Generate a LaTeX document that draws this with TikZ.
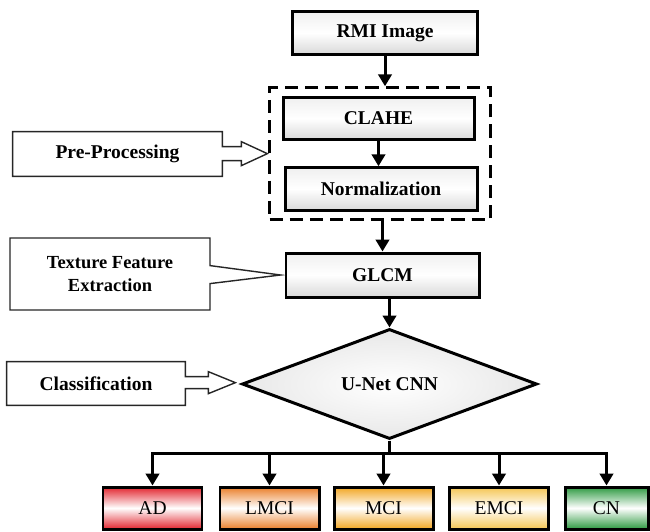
\documentclass[tikz,border=0pt]{standalone}
\usepackage{fontspec}
\setmainfont{Liberation Serif}
\usetikzlibrary{arrows.meta,positioning,shapes.geometric,shapes.callouts,fit,calc}
\definecolor{adred}{HTML}{E2262F}
\definecolor{lmciorange}{HTML}{EA7F2A}
\definecolor{mcigold}{HTML}{F2A622}
\definecolor{emciyellow}{HTML}{F5C552}
\definecolor{cngreen}{HTML}{2E9A42}
\newcommand{\labelsize}{\fontsize{11.1}{13}\selectfont}
\tikzset{
  block/.style={rectangle,draw=black,line width=1.7pt,top color=gray!12,bottom color=gray!30,middle color=white,font=\labelsize\bfseries,minimum height=0.85cm},
  classbox/.style={rectangle,draw=black,line width=1.7pt,top color=#1,bottom color=#1,middle color=white,font=\labelsize,minimum width=1.98cm,minimum height=0.84cm},
  note/.style={rectangle,font=\labelsize\bfseries,align=center},
  outline/.style={draw=black!85,line width=0.8pt},
  frame/.style={draw=black,line width=1.7pt,dash pattern=on 7.5pt off 4pt,inner xsep=0.24cm,inner ysep=0.16cm},
  flow/.style={line width=1.7pt,-{Triangle[length=6.8pt,width=7.6pt]}}
}
\begin{document}
\begin{tikzpicture}
\useasboundingbox (0,0) rectangle (13,-10.62);
% main column
\node (rmi) [block,minimum width=3.7cm] at (7.7,-0.66) {RMI Image};
\node (clahe) [block,minimum width=3.82cm] at (7.57,-2.37) {CLAHE};
\node (norm) [block,minimum width=3.84cm] at (7.62,-3.78) {Normalization};
\node (prebox) [frame,fit=(clahe)(norm)] {};
\node (glcm) [block,minimum width=3.86cm,minimum height=0.88cm] at (7.65,-5.5) {GLCM};
\node (dia) [diamond,draw=black,line width=1.7pt,inner color=white,outer color=gray!18,font=\labelsize\bfseries,inner sep=0pt,minimum width=5.9cm,minimum height=2.04cm] at (7.79,-7.68) {U-Net CNN};
%
\node (ad) [classbox=adred] at (3.05,-10.16) {AD};
\node (lmci) [classbox=lmciorange] at (5.39,-10.16) {LMCI};
\node (mci) [classbox=mcigold] at (7.67,-10.16) {MCI};
\node (emci) [classbox=emciyellow] at (9.98,-10.16) {EMCI};
\node (cn) [classbox=cngreen,minimum width=1.66cm] at (12.13,-10.16) {CN};
%
\draw[flow] (rmi.south) -- (rmi.south |- prebox.north);
\draw[flow] (clahe.south) -- (clahe.south |- norm.north);
\draw[flow] (prebox.south -| glcm.north) -- (glcm.north);
\draw[flow] (glcm.south -| dia.north) -- (dia.north);
\coordinate (fork) at ($(dia.south)+(0,-0.26)$);
\draw[line width=1.7pt] (dia.south) -- (fork);
\foreach \c in {ad,lmci,mci,emci,cn}
  \draw[flow] (fork) -| (\c.north);
% side notes
\node (pre) [note,minimum width=4.18cm,minimum height=0.88cm] at (2.35,-3.08) {Pre-Processing};
\draw[outline] (pre.north west) -- (pre.north east) -- ++(0,-0.30) -- ++(0.38,0) -- ++(0,0.10)
  -- ++(0.52,-0.24) -- ++(-0.52,-0.24) -- ++(0,0.10) -- ++(-0.38,0) |- (pre.south west) -- cycle;
\coordinate (textip) at ($(glcm.west)+(-0.08,0)$);
\node (tex) [note,rectangle callout,outline,font=\fontsize{10.5}{13}\selectfont\bfseries,minimum width=4.0cm,minimum height=1.44cm,callout absolute pointer=(textip),callout pointer width=0.36cm] at (2.2,-5.48) {Texture Feature\\Extraction};
\node (cls) [note,minimum width=3.56cm,minimum height=0.86cm] at (1.92,-7.67) {Classification};
\draw[outline] (cls.north west) -- (cls.north east) -- ++(0,-0.30) -- ++(0.46,0) -- ++(0,0.10)
  -- ++(0.54,-0.22) -- ++(-0.54,-0.22) -- ++(0,0.10) -- ++(-0.46,0) |- (cls.south west) -- cycle;
\end{tikzpicture}
\end{document}
